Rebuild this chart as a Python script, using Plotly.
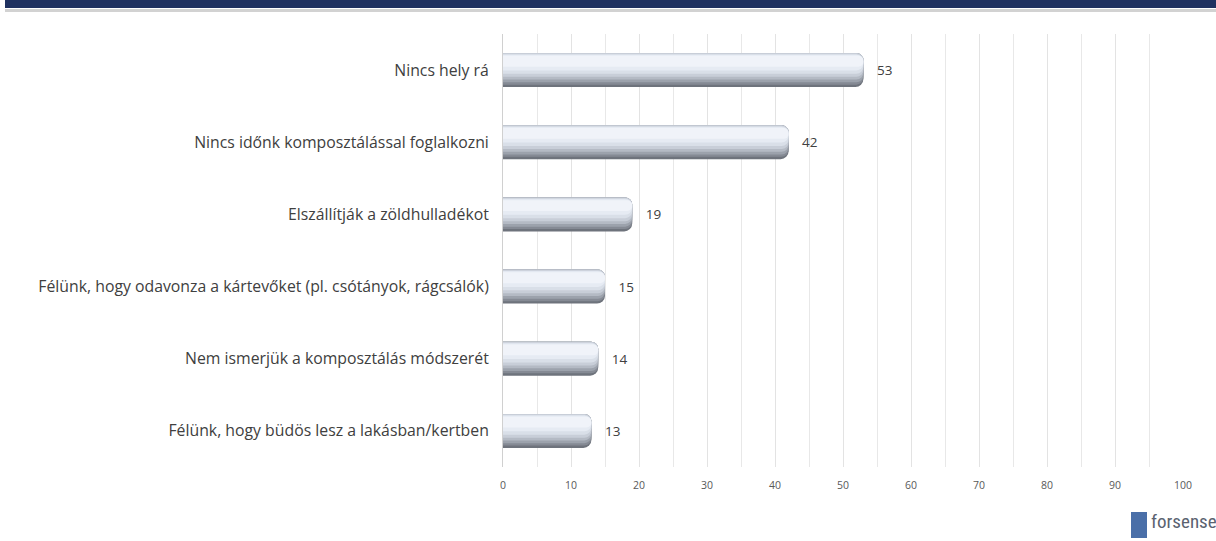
import plotly.graph_objects as go

categories = [
    "Nincs hely rá",
    "Nincs időnk komposztálással foglalkozni",
    "Elszállítják a zöldhulladékot",
    "Félünk, hogy odavonza a kártevőket (pl. csótányok, rágcsálók)",
    "Nem ismerjük a komposztálás módszerét",
    "Félünk, hogy büdös lesz a lakásban/kertben",
]
values = [53, 42, 19, 15, 14, 13]
tick_values = [0, 10, 20, 30, 40, 50, 60, 70, 80, 90, 100]
tick_labels = [str(v) for v in tick_values]

FONT = "Open Sans, sans-serif"
fig = go.Figure()

# layered bars to imitate the glossy cylinder gradient
W = 0.47
top = -W / 2
layers = [  # (start fraction, end fraction, colour) measured from the top edge
    (0.00, 1.00, "#6e737c"),
    (0.00, 0.93, "#858a94"),
    (0.00, 0.86, "#9ca2ac"),
    (0.00, 0.78, "#b4bac4"),
    (0.00, 0.70, "#c8ced8"),
    (0.03, 0.61, "#d9dfe8"),
    (0.05, 0.51, "#e6ebf3"),
    (0.08, 0.40, "#f0f3f9"),
]
for i, (s, e, col) in enumerate(layers):
    fig.add_trace(go.Bar(
        x=values, y=categories, orientation="h",
        width=W * (e - s), offset=top + W * s,
        marker=dict(color=col, cornerradius=8 if i == 0 else 7, line=dict(width=0)),
        hoverinfo="skip", showlegend=False,
        text=["   " + str(v) for v in values] if i == 0 else None,
        textposition="outside" if i == 0 else None,
        textfont=dict(family=FONT, size=13.5, color="#404040"),
        cliponaxis=False,
    ))

fig.update_layout(
    width=1216, height=541,
    margin=dict(l=503, r=33, t=34, b=74),
    paper_bgcolor="white", plot_bgcolor="white",
    barmode="overlay",
    xaxis=dict(
        range=[0, 100], tickvals=tick_values, ticktext=tick_labels,
        showgrid=True, gridcolor="#e3e3e3", gridwidth=1,
        minor=dict(dtick=5, showgrid=True, gridcolor="#e8e8e8"),
        zeroline=False, showline=False, ticks="",
        tickfont=dict(family=FONT, size=10.5, color="#595959"),
        ticklabelstandoff=10,
        fixedrange=True,
    ),
    yaxis=dict(
        categoryorder="array", categoryarray=categories, autorange="reversed",
        showgrid=False, zeroline=False, showline=True, linecolor="#d0d0d0",
        ticks="", ticklabelstandoff=10,
        tickfont=dict(family=FONT, size=15.8, color="#404040"),
        fixedrange=True,
    ),
    shapes=[
        dict(type="rect", xref="paper", yref="paper", x0=-498/680, x1=1.06,
             y0=1 + 26/433, y1=1 + 36/433, fillcolor="#1f3160", line=dict(width=0), layer="above"),
        dict(type="rect", xref="paper", yref="paper", x0=-498/680, x1=1.06,
             y0=1 + 22/433, y1=1 + 25/433, fillcolor="#d2d2d2", line=dict(width=0), layer="above"),
        dict(type="rect", xref="paper", yref="paper", x0=(1131-503)/680, x1=(1147-503)/680,
             y0=-(538-467)/433, y1=-(512-467)/433, fillcolor="#4a6fa8", line=dict(width=0)),
    ],
    annotations=[
        dict(text="forsense", xref="paper", yref="paper",
             x=(1149-503)/680, y=-(521-467)/433, xanchor="left", yanchor="middle",
             showarrow=False,
             font=dict(family="Roboto Condensed, Roboto, sans-serif", size=19, color="#5a6270")),
    ],
)

fig.write_html("out.html", config={"displayModeBar": False},
               post_script="document.body.style.margin='0';document.body.style.overflow='hidden';")
